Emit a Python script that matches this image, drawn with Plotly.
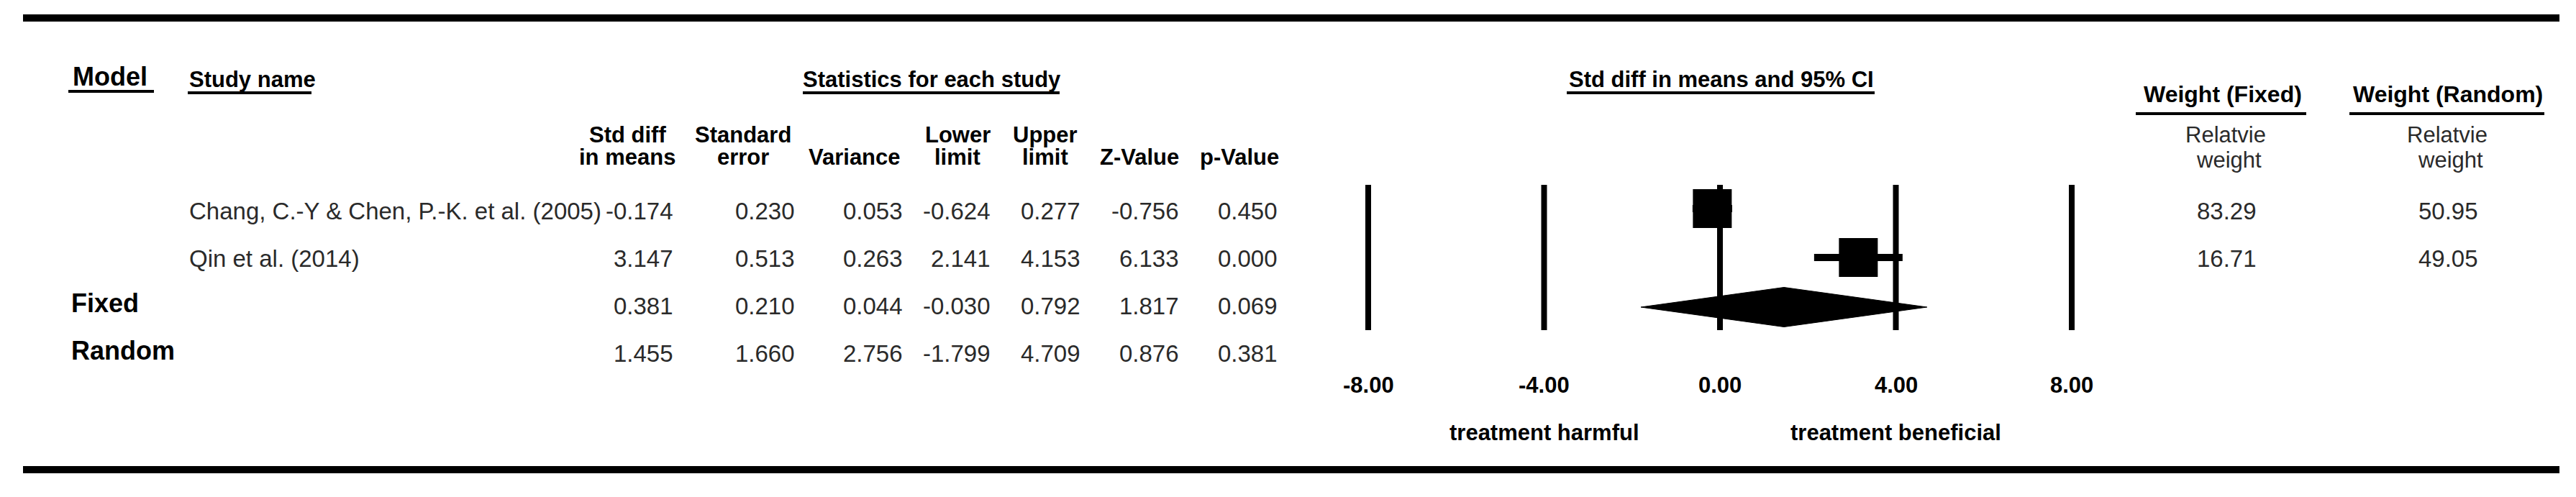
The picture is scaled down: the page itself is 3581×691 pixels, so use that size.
import plotly.graph_objects as go

# ---------------- data ----------------
study_names = ["Chang, C.-Y & Chen, P.-K. et al. (2005)", "Qin et al. (2014)"]
model_labels = ["Fixed", "Random"]
std_diff = [-0.174, 3.147, 0.381, 1.455]
std_err = [0.230, 0.513, 0.210, 1.660]
variance = [0.053, 0.263, 0.044, 2.756]
lower_limit = [-0.624, 2.141, -0.030, -1.799]
upper_limit = [0.277, 4.153, 0.792, 4.709]
z_value = [-0.756, 6.133, 1.817, 0.876]
p_value = [0.450, 0.000, 0.069, 0.381]
weight_fixed = [83.29, 16.71]
weight_random = [50.95, 49.05]
tick_values = [-8, -4, 0, 4, 8]
tick_labels = ["-8.00", "-4.00", "0.00", "4.00", "8.00"]
favours_labels = ["treatment harmful", "treatment beneficial"]

# ---------------- layout constants ----------------
W, H = 3581, 691
X0_PX, X_SCALE = 2391.0, 61.125      # pixel of x=0 and pixels per unit
ROW0_PX, ROW_STEP = 293.0, 66.0      # pixel of row 0 and pixels per row
FONT = "Liberation Sans, Arial, Helvetica, sans-serif"
TXT = "#2a2a2a"


def px(x):
    return x / W


def py(y):
    return 1 - y / H


def row_of(ypx):
    return (ypx - ROW0_PX) / ROW_STEP


fig = go.Figure()

# reference lines at tick values
shapes = []
for t in tick_values:
    shapes.append(dict(type="line", xref="x", yref="y", x0=t, x1=t,
                       y0=row_of(257), y1=row_of(459),
                       line=dict(color="black", width=8)))

# studies: squares + CI lines
n_st = len(study_names)
fig.add_trace(go.Scatter(
    x=std_diff[:n_st], y=[row_of(290), row_of(358)],
    mode="markers",
    marker=dict(symbol="square", size=54, color="black", line=dict(width=0)),
    error_x=dict(type="data", symmetric=False,
                 array=[u - e for u, e in zip(upper_limit[:n_st], std_diff[:n_st])],
                 arrayminus=[e - l for e, l in zip(std_diff[:n_st], lower_limit[:n_st])],
                 thickness=10, width=0, color="black"),
    showlegend=False, hoverinfo="skip"))

# summary diamond (random-effects estimate), drawn on the summary row
r_i = 3
d_row = row_of(427)
h = 27.5 / ROW_STEP
fig.add_trace(go.Scatter(
    x=[lower_limit[r_i], std_diff[r_i], upper_limit[r_i], std_diff[r_i], lower_limit[r_i]],
    y=[d_row, d_row - h, d_row, d_row + h, d_row],
    mode="lines", fill="toself", fillcolor="black",
    line=dict(color="black", width=1),
    showlegend=False, hoverinfo="skip"))

ann = []


def add_text(text, x, y, size, anchor="center", bold=False, color=TXT, yref="paper"):
    t = f"<b>{text}</b>" if bold else text
    ann.append(dict(text=t, x=px(x), y=(py(y) if yref == "paper" else y),
                    xref="paper", yref=yref, xanchor=anchor, yanchor="middle",
                    showarrow=False, font=dict(family=FONT, size=size, color=color)))


def underline(x0, x1, y, width=4):
    shapes.append(dict(type="line", xref="paper", yref="paper",
                       x0=px(x0), x1=px(x1), y0=py(y), y1=py(y),
                       line=dict(color="black", width=width)))


# top / bottom rules
for yy in (25, 653):
    shapes.append(dict(type="line", xref="paper", yref="paper",
                       x0=px(32), x1=px(3558), y0=py(yy), y1=py(yy),
                       line=dict(color="black", width=10)))

# group headers
add_text("Model", 153, 106, 36, bold=True, color="black")
underline(95, 214, 127)
add_text("Study name", 261, 110, 31, anchor="left", bold=True, color="black")
underline(261, 433, 129)
add_text("Statistics for each study", 1295, 110, 31, bold=True, color="black")
underline(1116, 1473, 129)
add_text("Std diff in means and 95% CI", 2393, 110, 31, bold=True, color="black")
underline(2178, 2606, 129)
add_text("Weight (Fixed)", 3090, 131, 32, bold=True, color="black")
underline(2969, 3206, 158)
add_text("Weight (Random)", 3403, 131, 32, bold=True, color="black")
underline(3266, 3537, 158)
for cx in (3094, 3402):
    add_text("Relatvie", cx, 187, 31)
    add_text("weight", cx + 4, 222, 31)

# column headers
col_heads = [("Std diff", "in means", 872), ("Standard", "error", 1033),
             ("", "Variance", 1188), ("Lower", "limit", 1331),
             ("Upper", "limit", 1453), ("", "Z-Value", 1584), ("", "p-Value", 1723)]
for l1, l2, cx in col_heads:
    if l1:
        add_text(l1, cx, 187, 31, bold=True, color="black")
    add_text(l2, cx, 218, 31, bold=True, color="black")

# table body
col_right = [938, 1107, 1257, 1379, 1504, 1641, 1778]
columns = [std_diff, std_err, variance, lower_limit, upper_limit, z_value, p_value]
n_rows = len(std_diff)
for i in range(n_rows):
    yrow = i
    if i < n_st:
        add_text(study_names[i], 261, yrow, 33, anchor="left", yref="y")
    else:
        add_text(model_labels[i - n_st], 97, yrow - 0.05, 36, anchor="left",
                 bold=True, color="black", yref="y")
    for vals, xr in zip(columns, col_right):
        add_text(f"{vals[i]:.3f}", xr, yrow, 33, anchor="right", yref="y")

for i in range(n_st):
    add_text(f"{weight_fixed[i]:.2f}", 3095, i, 33, yref="y")
    add_text(f"{weight_random[i]:.2f}", 3403, i, 33, yref="y")

# axis tick labels and favours labels
for t, lab in zip(tick_values, tick_labels):
    ann.append(dict(text=f"<b>{lab}</b>", x=t, y=row_of(535), xref="x", yref="y",
                    xanchor="center", yanchor="middle", showarrow=False,
                    font=dict(family=FONT, size=31, color="black")))
for t, lab in zip([-4, 4], favours_labels):
    ann.append(dict(text=f"<b>{lab}</b>", x=t, y=row_of(601), xref="x", yref="y",
                    xanchor="center", yanchor="middle", showarrow=False,
                    font=dict(family=FONT, size=31, color="black")))

fig.update_layout(
    width=W, height=H,
    margin=dict(l=0, r=0, t=0, b=0, pad=0),
    paper_bgcolor="white", plot_bgcolor="white",
    font=dict(family=FONT),
    xaxis=dict(range=[-X0_PX / X_SCALE, (W - X0_PX) / X_SCALE], visible=False,
               domain=[0, 1], fixedrange=True),
    yaxis=dict(range=[(H - ROW0_PX) / ROW_STEP, -ROW0_PX / ROW_STEP], visible=False,
               domain=[0, 1], fixedrange=True),
    shapes=shapes, annotations=ann, showlegend=False,
)

fig.write_html("out.html", config={"displayModeBar": False},
               post_script="document.body.style.margin='0';document.body.style.overflow='hidden';")
